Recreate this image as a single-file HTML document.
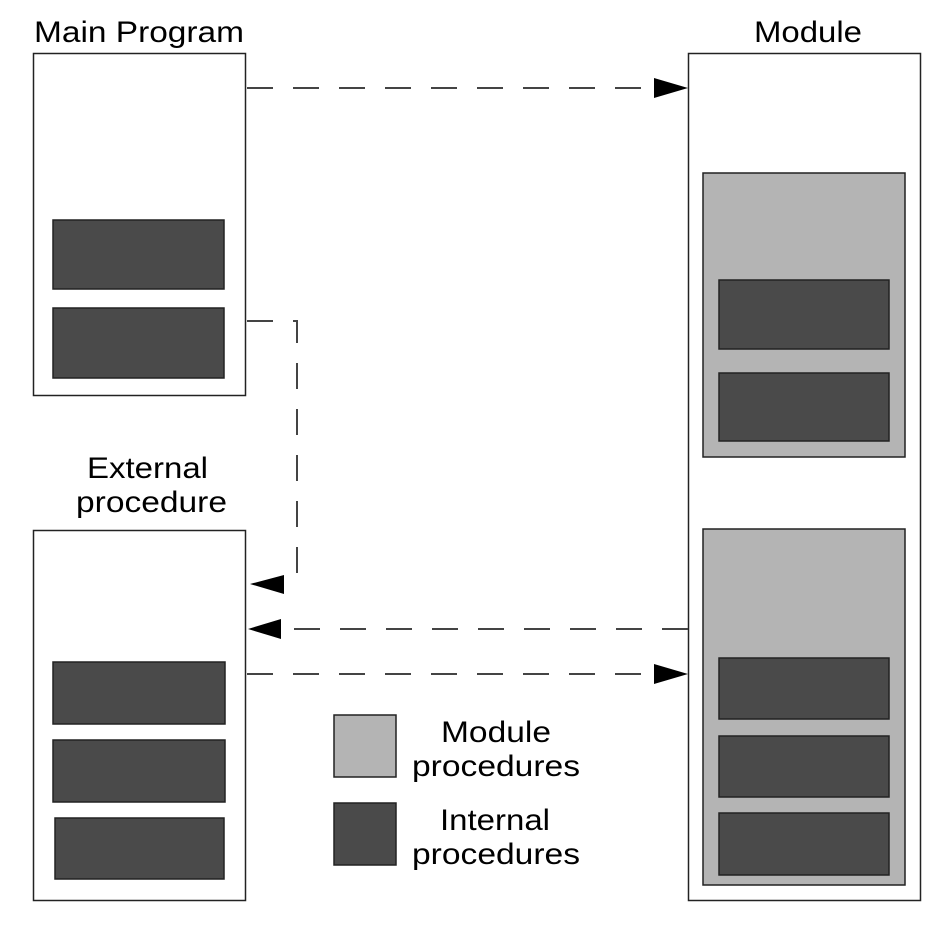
<!DOCTYPE html>
<html><head><style>body{margin:0;background:#fff}</style></head><body>
<svg width="950" height="922" xmlns="http://www.w3.org/2000/svg" font-family="Liberation Sans, sans-serif" font-size="30" fill="#000">
<rect width="950" height="922" fill="#fff"/>
<g stroke="#222" stroke-width="1.5">
<rect x="33.5" y="53.5" width="212" height="342" fill="#fff"/>
<rect x="53" y="220" width="171" height="69" fill="#4a4a4a"/>
<rect x="53" y="308" width="171" height="70" fill="#4a4a4a"/>
<rect x="688.5" y="53.5" width="232" height="847" fill="#fff"/>
<rect x="703" y="173" width="202" height="284" fill="#b4b4b4"/>
<rect x="719" y="280" width="170" height="69" fill="#4a4a4a"/>
<rect x="719" y="373" width="170" height="68" fill="#4a4a4a"/>
<rect x="703" y="529" width="202" height="356" fill="#b4b4b4"/>
<rect x="719" y="658" width="170" height="61" fill="#4a4a4a"/>
<rect x="719" y="736" width="170" height="61" fill="#4a4a4a"/>
<rect x="719" y="813" width="170" height="62" fill="#4a4a4a"/>
<rect x="33.5" y="530.5" width="212" height="370" fill="#fff"/>
<rect x="53" y="662" width="172" height="62" fill="#4a4a4a"/>
<rect x="53" y="740" width="172" height="62" fill="#4a4a4a"/>
<rect x="55" y="818" width="169" height="61" fill="#4a4a4a"/>
<rect x="334" y="715" width="62" height="62" fill="#b4b4b4"/>
<rect x="334" y="803" width="62" height="62" fill="#4a4a4a"/>
</g>
<g stroke="#444" stroke-width="2" fill="none" stroke-dasharray="26 20">
<line x1="247" y1="88" x2="656" y2="88"/>
<polyline points="247,321 297,321 297,580 282,580"/>
<line x1="688" y1="629" x2="280" y2="629"/>
<line x1="247" y1="674" x2="656" y2="674"/>
</g>
<g fill="#000">
<polygon points="688,88 654,78 654,98"/>
<polygon points="250,584 284,575 284,594"/>
<polygon points="248,629 281,619 281,639"/>
<polygon points="688,674 654,664 654,684"/>
</g>
<g lengthAdjust="spacingAndGlyphs">
<text x="34" y="42" textLength="210" lengthAdjust="spacingAndGlyphs">Main Program</text>
<text x="754" y="42" textLength="108" lengthAdjust="spacingAndGlyphs">Module</text>
<text x="87" y="478" textLength="121" lengthAdjust="spacingAndGlyphs">External</text>
<text x="76" y="512" textLength="151" lengthAdjust="spacingAndGlyphs">procedure</text>
<text x="441" y="742" textLength="110" lengthAdjust="spacingAndGlyphs">Module</text>
<text x="412" y="776" textLength="168" lengthAdjust="spacingAndGlyphs">procedures</text>
<text x="440" y="830" textLength="110" lengthAdjust="spacingAndGlyphs">Internal</text>
<text x="412" y="864" textLength="168" lengthAdjust="spacingAndGlyphs">procedures</text>
</g>
</svg>
</body></html>
